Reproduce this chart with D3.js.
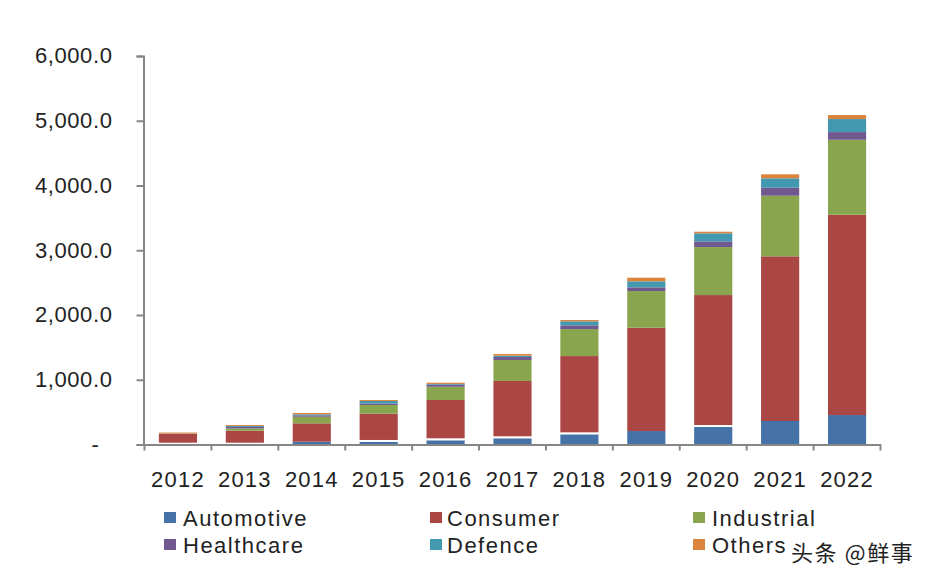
<!DOCTYPE html>
<html>
<head>
<meta charset="utf-8">
<script src="https://cdn.jsdelivr.net/npm/d3@7"></script>
<style>
  html, body { margin: 0; padding: 0; background: #fff; }
  text { font-family: "Liberation Sans", Arial, sans-serif; fill: #222; }
</style>
</head>
<body>
<svg id="chart" width="932" height="582"></svg>
<script>
const years = ["2012", "2013", "2014", "2015", "2016", "2017", "2018", "2019", "2020", "2021", "2022"];
const yTicks = [0, 1000, 2000, 3000, 4000, 5000, 6000];

const automotive = [5, 5, 43, 39, 65, 96, 157, 208, 270, 363, 455];
// thin white seam the source chart shows above the blue segment in some years
const seam = [23, 23, 0, 31, 31, 31, 31, 0, 31, 0, 0];
const consumer = [135, 185, 284, 406, 591, 854, 1178, 1595, 2007, 2543, 3093];
const industrial = [3, 34, 102, 134, 205, 324, 417, 567, 741, 936, 1158];
const healthcare = [2, 23, 22, 23, 31, 46, 57, 57, 88, 124, 119];
const defence = [2, 15, 15, 39, 11, 20, 62, 93, 124, 145, 201];
const others = [15, 15, 20, 15, 20, 26, 20, 56, 25, 62, 62];

const seriesNames = ["Automotive", "Consumer", "Industrial", "Healthcare", "Defence", "Others"];
const seriesColors = ["#4572a7", "#aa4643", "#89a54e", "#71588f", "#4198af", "#db843d"];

const svg = d3.select("#chart");

const x = d3.scaleBand().domain(years).range([144.5, 880.5]).paddingInner(0.43).paddingOuter(0.215);
const y = d3.scaleLinear().domain([0, 6000]).range([444.5, 56]);

// stack everything, seam included, then leave the seam out of the coloured layers
const keys = ["automotive", "seam", "consumer", "industrial", "healthcare", "defence", "others"];
const rows = years.map((yr, i) => ({
  year: yr,
  automotive: automotive[i],
  seam: seam[i],
  consumer: consumer[i],
  industrial: industrial[i],
  healthcare: healthcare[i],
  defence: defence[i],
  others: others[i]
}));
const layers = d3.stack().keys(keys)(rows);
const colorOf = {
  automotive: seriesColors[0], seam: "#fff", consumer: seriesColors[1],
  industrial: seriesColors[2], healthcare: seriesColors[3], defence: seriesColors[4], others: seriesColors[5]
};

svg.append("g").selectAll("g").data(layers).join("g")
  .attr("fill", d => colorOf[d.key])
  .selectAll("rect").data(d => d).join("rect")
  .attr("x", d => x(d.data.year))
  .attr("width", x.bandwidth())
  .attr("y", d => y(d[1]))
  .attr("height", d => y(d[0]) - y(d[1]));

// y axis
const yAxis = d3.axisLeft(y).tickValues(yTicks).tickSize(7).tickPadding(24)
  .tickFormat(d => d === 0 ? "-" : d3.format(",.1f")(d));
const yG = svg.append("g").attr("transform", "translate(143.5,0)").call(yAxis);
yG.selectAll("path, line").attr("stroke", "#868686").attr("stroke-width", 2);
yG.selectAll("text").attr("font-size", 22).attr("letter-spacing", 0.6)
  .attr("font-family", null).attr("dy", "0.31em");
yG.selectAll(".tick").filter(d => d === 0).select("text").attr("dx", -13);

// x axis, ticks sit between the bars
const xAxis = d3.axisBottom(x).tickSize(0).tickPadding(27);
const xG = svg.append("g").attr("transform", "translate(0,444.5)").call(xAxis);
xG.select("path").attr("stroke", "#868686").attr("stroke-width", 2);
xG.selectAll("text").attr("font-size", 22).attr("letter-spacing", 1.2).attr("font-family", null);
const step = x.step();
xG.selectAll("line.sep").data(d3.range(years.length + 1)).join("line")
  .attr("class", "sep")
  .attr("x1", i => 144.5 + i * step).attr("x2", i => 144.5 + i * step)
  .attr("y1", 0).attr("y2", 6)
  .attr("stroke", "#868686").attr("stroke-width", 2);

// legend, two rows of three
const legendX = [164, 430, 693];
const legendTextX = [19, 17, 19];
const legendY = [512, 539];
const legend = svg.append("g").selectAll("g").data(seriesNames).join("g")
  .attr("transform", (d, i) => `translate(${legendX[i % 3]},${legendY[Math.floor(i / 3)]})`);
legend.append("rect").attr("width", 12).attr("height", 11).attr("fill", (d, i) => seriesColors[i]);
legend.append("text").text(d => d)
  .attr("x", (d, i) => legendTextX[i % 3]).attr("y", 14)
  .attr("font-size", 22).attr("letter-spacing", 1.5);

// watermark
svg.append("text").text("头条 @鲜事")
  .attr("x", 791).attr("y", 561)
  .style("font-family", '"Noto Sans CJK SC", sans-serif')
  .attr("font-size", 22)
  .attr("letter-spacing", 1.6)
  .style("fill", "#222")
  .attr("stroke", "#fff").attr("stroke-width", 2.5)
  .attr("paint-order", "stroke");
</script>
</body>
</html>
